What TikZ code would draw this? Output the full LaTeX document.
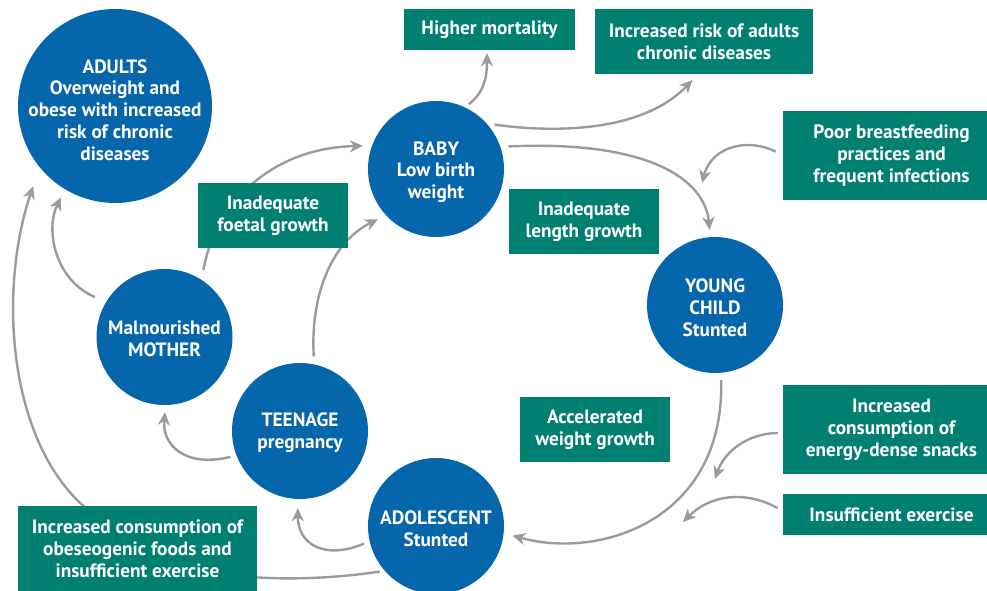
\documentclass[tikz,border=0pt]{standalone}
\usepackage{fontspec}
\setmainfont{PT Sans}
\usetikzlibrary{arrows.meta,backgrounds}
\definecolor{cblue}{RGB}{6,102,171}
\definecolor{cteal}{RGB}{0,128,112}
\definecolor{agray}{RGB}{155,155,158}
\begin{document}
\begin{tikzpicture}[x=1pt,y=-1pt,
 circ/.style={circle,fill=cblue,draw=none,inner sep=0pt,minimum size=136pt},
 ctext/.style={text=white,font=\fontsize{19.3}{21.8}\selectfont\bfseries,align=center,inner sep=0pt},
 box/.style={rectangle,fill=cteal,text=white,font=\fontsize{19.3}{21.8}\selectfont\bfseries,align=center,inner sep=0pt},
 arr/.style={draw=agray,line width=2.4pt,-{Stealth[length=13pt,width=12pt,inset=4pt]}}]
\useasboundingbox (0,0) rectangle (987,591);
% circles
\node[circ,minimum size=194pt] (adults) at (115,106) {};
\node[ctext] (adultsT) at (115,110) {ADULTS\\Overweight and\\obese with increased\\risk of chronic\\diseases};
\node[circ] (baby) at (436,169) {};
\node[ctext] (babyT) at (436,172) {BABY\\Low birth\\weight};
\node[circ] (child) at (715,305) {};
\node[ctext] (childT) at (715,308) {YOUNG\\CHILD\\Stunted};
\node[circ] (mother) at (164.5,337) {};
\node[ctext] (motherT) at (164.5,339) {Malnourished\\MOTHER};
\node[circ] (teen) at (300,431) {};
\node[ctext] (teenT) at (300,433) {TEENAGE\\pregnancy};
\node[circ] (adol) at (436,526) {};
\node[ctext] (adolT) at (436,529) {ADOLESCENT\\Stunted};
% boxes
\node[box,minimum width=171pt,minimum height=41pt] (mort) at (489.5,29.5) {Higher mortality};
\node[box,minimum width=218pt,minimum height=65pt] (risk) at (704,41.5) {Increased risk of adults\\chronic diseases};
\node[box,minimum width=217pt,minimum height=89pt] (poor) at (891.5,155.5) {Poor breastfeeding\\practices and\\frequent infections};
\node[box,minimum width=150pt,minimum height=65pt] (foetal) at (273,215.5) {Inadequate\\foetal growth};
\node[box,minimum width=150pt,minimum height=65pt] (length) at (584,221.5) {Inadequate\\length growth};
\node[box,minimum width=150pt,minimum height=65pt] (accel) at (595,429.5) {Accelerated\\weight growth};
\node[box,minimum width=217pt,minimum height=89pt] (snacks) at (891.5,429.5) {Increased\\consumption of\\energy-dense snacks};
\node[box,minimum width=217pt,minimum height=41pt] (insuff) at (891.5,514.5) {Insufficient exercise};
\node[box,minimum width=239pt,minimum height=86pt] (obes) at (137.5,549) {Increased consumption of\\obeseogenic foods and\\insufficient exercise};
% free ends
\coordinate (c9) at (702,183);
\coordinate (c11) at (715,479);
\coordinate (c12) at (683,522);
\begin{pgfonlayer}{background}
\draw[arr,shorten <=10pt,shorten >=9pt] (mother.57) .. controls (215,205) and (270,148) .. (baby.160);
\draw[arr,shorten <=12pt,shorten >=9pt] (mother.149) .. controls (55,280) and (45,230) .. (adults.239);
\draw[arr,shorten <=5pt,shorten >=20pt] (adol.221) .. controls (300,584) and (160,585) .. (110,525) .. controls (10,470) and (-5,300) .. (adults.219);
\draw[arr,shorten <=6pt,shorten >=7pt] (teen.201) .. controls (185,468) and (162,445) .. (mother.271);
\draw[arr,shorten <=8pt,shorten >=9pt] (teen.78) .. controls (310,290) and (335,240) .. (baby.223);
\draw[arr,shorten <=5pt,shorten >=3pt] (baby.65) .. controls (485,92) and (487,75) .. ([xshift=-2.5pt]mort.south);
\draw[arr,shorten <=8pt,shorten >=8pt] (baby.42) .. controls (545,132) and (640,135) .. ([xshift=-6pt]risk.south);
\draw[arr,shorten <=8pt,shorten >=7pt] (baby.19) .. controls (650,140) and (705,180) .. (child.94);
\draw[arr,shorten <=8pt] (poor.west) .. controls (750,138) and (712,145) .. (c9);
\draw[arr,shorten <=7pt,shorten >=9pt] (child.275) .. controls (725,520) and (600,560) .. (adol.354);
\draw[arr,shorten <=5pt] ([yshift=-3.5pt]snacks.west) .. controls (750,433) and (725,450) .. (c11);
\draw[arr,shorten <=6pt] ([yshift=3.5pt]insuff.west) .. controls (745,490) and (710,495) .. (c12);
\draw[arr,shorten <=6pt,shorten >=9pt] (adol.193) .. controls (325,560) and (298,545) .. (teen.268);
\end{pgfonlayer}
\end{tikzpicture}
\end{document}
